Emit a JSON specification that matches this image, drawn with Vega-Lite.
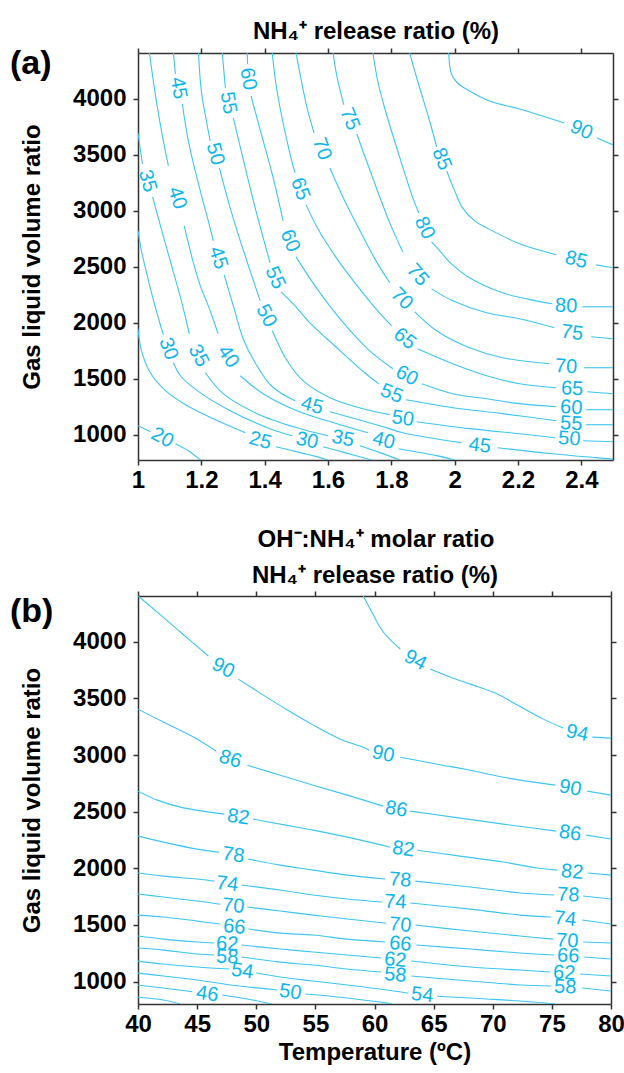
{
"$schema": "https://vega.github.io/schema/vega-lite/v6.json",
"background": "white",
"padding": {"left": 10, "top": 19, "right": 8, "bottom": 5},
"spacing": 12,
"config": {
 "font": "Liberation Sans",
 "view": {"stroke": null},
 "axis": {"grid": false, "labelFont": "Liberation Sans", "labelFontSize": 24, "labelFontWeight": "bold", "labelColor": "#000", "titleFont": "Liberation Sans", "titleFontSize": 24, "titleFontWeight": "bold", "titleColor": "#000", "domainColor": "#333", "domainWidth": 1.5, "tickColor": "#333", "tickWidth": 1.5, "tickSize": 5, "labelPadding": 3, "labelFlush": false, "labelOverlap": false},
 "title": {"font": "Liberation Sans", "fontSize": 34, "fontWeight": "bold", "color": "#000"}
},
"datasets": {
"la": [
{"lv":20,"s":1,"i":1,"x":1.000,"y":1080},{"lv":20,"s":1,"i":2,"x":1.039,"y":1027},{"lv":20,"s":2,"i":3,"x":1.118,"y":920},{"lv":20,"s":2,"i":4,"x":1.159,"y":857},{"lv":20,"s":2,"i":5,"x":1.197,"y":774},
{"lv":25,"s":1,"i":1,"x":1.000,"y":1946},{"lv":25,"s":1,"i":2,"x":1.011,"y":1749},{"lv":25,"s":1,"i":3,"x":1.039,"y":1553},{"lv":25,"s":1,"i":4,"x":1.087,"y":1393},{"lv":25,"s":1,"i":5,"x":1.150,"y":1268},{"lv":25,"s":1,"i":6,"x":1.238,"y":1143},{"lv":25,"s":1,"i":7,"x":1.339,"y":1018},{"lv":25,"s":2,"i":8,"x":1.436,"y":893},{"lv":25,"s":2,"i":9,"x":1.512,"y":840},{"lv":25,"s":2,"i":10,"x":1.565,"y":804},{"lv":25,"s":2,"i":11,"x":1.600,"y":774},
{"lv":30,"s":1,"i":1,"x":1.000,"y":2820},{"lv":30,"s":1,"i":2,"x":1.011,"y":2641},{"lv":30,"s":1,"i":3,"x":1.027,"y":2445},{"lv":30,"s":1,"i":4,"x":1.046,"y":2231},{"lv":30,"s":1,"i":5,"x":1.065,"y":2035},{"lv":30,"s":1,"i":6,"x":1.080,"y":1892},{"lv":30,"s":2,"i":7,"x":1.112,"y":1642},{"lv":30,"s":2,"i":8,"x":1.134,"y":1526},{"lv":30,"s":2,"i":9,"x":1.187,"y":1393},{"lv":30,"s":2,"i":10,"x":1.291,"y":1214},{"lv":30,"s":2,"i":11,"x":1.417,"y":1054},{"lv":30,"s":2,"i":12,"x":1.487,"y":991},{"lv":30,"s":3,"i":13,"x":1.584,"y":893},{"lv":30,"s":3,"i":14,"x":1.653,"y":840},{"lv":30,"s":3,"i":15,"x":1.738,"y":774},
{"lv":35,"s":1,"i":1,"x":1.000,"y":3694},{"lv":35,"s":1,"i":2,"x":1.008,"y":3533},{"lv":35,"s":1,"i":3,"x":1.014,"y":3418},{"lv":35,"s":2,"i":4,"x":1.046,"y":3123},{"lv":35,"s":2,"i":5,"x":1.077,"y":2802},{"lv":35,"s":2,"i":6,"x":1.109,"y":2481},{"lv":35,"s":2,"i":7,"x":1.137,"y":2195},{"lv":35,"s":2,"i":8,"x":1.162,"y":1901},{"lv":35,"s":3,"i":9,"x":1.213,"y":1553},{"lv":35,"s":3,"i":10,"x":1.269,"y":1366},{"lv":35,"s":3,"i":11,"x":1.376,"y":1188},{"lv":35,"s":3,"i":12,"x":1.502,"y":1062},{"lv":35,"s":3,"i":13,"x":1.600,"y":991},{"lv":35,"s":4,"i":14,"x":1.701,"y":902},{"lv":35,"s":4,"i":15,"x":1.764,"y":840},{"lv":35,"s":4,"i":16,"x":1.827,"y":774},
{"lv":40,"s":1,"i":1,"x":1.036,"y":4408},{"lv":40,"s":1,"i":2,"x":1.058,"y":3979},{"lv":40,"s":1,"i":3,"x":1.080,"y":3623},{"lv":40,"s":1,"i":4,"x":1.096,"y":3400},{"lv":40,"s":2,"i":5,"x":1.146,"y":2864},{"lv":40,"s":2,"i":6,"x":1.175,"y":2534},{"lv":40,"s":2,"i":7,"x":1.197,"y":2329},{"lv":40,"s":2,"i":8,"x":1.228,"y":2106},{"lv":40,"s":2,"i":9,"x":1.253,"y":1901},{"lv":40,"s":3,"i":10,"x":1.323,"y":1526},{"lv":40,"s":3,"i":11,"x":1.395,"y":1366},{"lv":40,"s":3,"i":12,"x":1.502,"y":1214},{"lv":40,"s":3,"i":13,"x":1.628,"y":1098},{"lv":40,"s":3,"i":14,"x":1.726,"y":1018},{"lv":40,"s":4,"i":15,"x":1.823,"y":875},{"lv":40,"s":4,"i":16,"x":1.943,"y":813},{"lv":40,"s":4,"i":17,"x":2.000,"y":774},
{"lv":45,"s":1,"i":1,"x":1.112,"y":4408},{"lv":45,"s":1,"i":2,"x":1.118,"y":4220},{"lv":45,"s":2,"i":3,"x":1.140,"y":3953},{"lv":45,"s":2,"i":4,"x":1.159,"y":3623},{"lv":45,"s":2,"i":5,"x":1.191,"y":3239},{"lv":45,"s":2,"i":6,"x":1.222,"y":2909},{"lv":45,"s":2,"i":7,"x":1.238,"y":2731},{"lv":45,"s":3,"i":8,"x":1.272,"y":2427},{"lv":45,"s":3,"i":9,"x":1.301,"y":2150},{"lv":45,"s":3,"i":10,"x":1.332,"y":1857},{"lv":45,"s":3,"i":11,"x":1.370,"y":1642},{"lv":45,"s":3,"i":12,"x":1.424,"y":1428},{"lv":45,"s":3,"i":13,"x":1.496,"y":1303},{"lv":45,"s":4,"i":14,"x":1.606,"y":1205},{"lv":45,"s":4,"i":15,"x":1.764,"y":1080},{"lv":45,"s":4,"i":16,"x":1.836,"y":1018},{"lv":45,"s":4,"i":17,"x":2.022,"y":929},{"lv":45,"s":5,"i":18,"x":2.135,"y":884},{"lv":45,"s":5,"i":19,"x":2.308,"y":830},{"lv":45,"s":5,"i":20,"x":2.447,"y":795},{"lv":45,"s":5,"i":21,"x":2.5,"y":782},
{"lv":50,"s":1,"i":1,"x":1.191,"y":4408},{"lv":50,"s":1,"i":2,"x":1.200,"y":4069},{"lv":50,"s":1,"i":3,"x":1.216,"y":3801},{"lv":50,"s":1,"i":4,"x":1.228,"y":3623},{"lv":50,"s":2,"i":5,"x":1.257,"y":3382},{"lv":50,"s":2,"i":6,"x":1.291,"y":3025},{"lv":50,"s":2,"i":7,"x":1.323,"y":2731},{"lv":50,"s":2,"i":8,"x":1.354,"y":2463},{"lv":50,"s":2,"i":9,"x":1.386,"y":2195},{"lv":50,"s":3,"i":10,"x":1.424,"y":1928},{"lv":50,"s":3,"i":11,"x":1.471,"y":1660},{"lv":50,"s":3,"i":12,"x":1.521,"y":1482},{"lv":50,"s":3,"i":13,"x":1.606,"y":1330},{"lv":50,"s":3,"i":14,"x":1.710,"y":1232},{"lv":50,"s":3,"i":15,"x":1.795,"y":1179},{"lv":50,"s":4,"i":16,"x":1.880,"y":1116},{"lv":50,"s":4,"i":17,"x":2.047,"y":1054},{"lv":50,"s":4,"i":18,"x":2.205,"y":1009},{"lv":50,"s":4,"i":19,"x":2.318,"y":973},{"lv":50,"s":5,"i":20,"x":2.406,"y":946},{"lv":50,"s":5,"i":21,"x":2.5,"y":937},
{"lv":55,"s":1,"i":1,"x":1.266,"y":4408},{"lv":55,"s":1,"i":2,"x":1.276,"y":4095},{"lv":55,"s":2,"i":3,"x":1.301,"y":3828},{"lv":55,"s":2,"i":4,"x":1.335,"y":3426},{"lv":55,"s":2,"i":5,"x":1.370,"y":3025},{"lv":55,"s":2,"i":6,"x":1.398,"y":2731},{"lv":55,"s":2,"i":7,"x":1.417,"y":2534},{"lv":55,"s":3,"i":8,"x":1.452,"y":2276},{"lv":55,"s":3,"i":9,"x":1.496,"y":2150},{"lv":55,"s":3,"i":10,"x":1.543,"y":1999},{"lv":55,"s":3,"i":11,"x":1.628,"y":1776},{"lv":55,"s":3,"i":12,"x":1.716,"y":1553},{"lv":55,"s":3,"i":13,"x":1.760,"y":1455},{"lv":55,"s":4,"i":14,"x":1.846,"y":1312},{"lv":55,"s":4,"i":15,"x":1.994,"y":1241},{"lv":55,"s":4,"i":16,"x":2.151,"y":1188},{"lv":55,"s":4,"i":17,"x":2.321,"y":1125},{"lv":55,"s":5,"i":18,"x":2.415,"y":1089},{"lv":55,"s":5,"i":19,"x":2.5,"y":1089},
{"lv":60,"s":1,"i":1,"x":1.345,"y":4408},{"lv":60,"s":1,"i":2,"x":1.346,"y":4310},{"lv":60,"s":2,"i":3,"x":1.357,"y":4024},{"lv":60,"s":2,"i":4,"x":1.392,"y":3658},{"lv":60,"s":2,"i":5,"x":1.427,"y":3293},{"lv":60,"s":2,"i":6,"x":1.458,"y":2909},{"lv":60,"s":3,"i":7,"x":1.499,"y":2588},{"lv":60,"s":3,"i":8,"x":1.559,"y":2329},{"lv":60,"s":3,"i":9,"x":1.638,"y":2035},{"lv":60,"s":3,"i":10,"x":1.732,"y":1749},{"lv":60,"s":3,"i":11,"x":1.805,"y":1589},{"lv":60,"s":4,"i":12,"x":1.896,"y":1455},{"lv":60,"s":4,"i":13,"x":1.994,"y":1366},{"lv":60,"s":4,"i":14,"x":2.101,"y":1321},{"lv":60,"s":4,"i":15,"x":2.205,"y":1277},{"lv":60,"s":4,"i":16,"x":2.321,"y":1250},{"lv":60,"s":5,"i":17,"x":2.415,"y":1223},{"lv":60,"s":5,"i":18,"x":2.5,"y":1223},
{"lv":65,"s":1,"i":1,"x":1.424,"y":4408},{"lv":65,"s":1,"i":2,"x":1.439,"y":4069},{"lv":65,"s":1,"i":3,"x":1.480,"y":3507},{"lv":65,"s":1,"i":4,"x":1.496,"y":3337},{"lv":65,"s":2,"i":5,"x":1.531,"y":3052},{"lv":65,"s":2,"i":6,"x":1.568,"y":2838},{"lv":65,"s":2,"i":7,"x":1.622,"y":2597},{"lv":65,"s":2,"i":8,"x":1.685,"y":2356},{"lv":65,"s":2,"i":9,"x":1.757,"y":2106},{"lv":65,"s":2,"i":10,"x":1.801,"y":1972},{"lv":65,"s":3,"i":11,"x":1.883,"y":1767},{"lv":65,"s":3,"i":12,"x":1.994,"y":1633},{"lv":65,"s":3,"i":13,"x":2.101,"y":1526},{"lv":65,"s":3,"i":14,"x":2.205,"y":1455},{"lv":65,"s":3,"i":15,"x":2.321,"y":1419},{"lv":65,"s":4,"i":16,"x":2.419,"y":1384},{"lv":65,"s":4,"i":17,"x":2.5,"y":1366},
{"lv":70,"s":1,"i":1,"x":1.499,"y":4408},{"lv":70,"s":1,"i":2,"x":1.534,"y":3917},{"lv":70,"s":1,"i":3,"x":1.556,"y":3694},{"lv":70,"s":2,"i":4,"x":1.606,"y":3382},{"lv":70,"s":2,"i":5,"x":1.653,"y":3087},{"lv":70,"s":2,"i":6,"x":1.701,"y":2820},{"lv":70,"s":2,"i":7,"x":1.748,"y":2570},{"lv":70,"s":2,"i":8,"x":1.795,"y":2356},{"lv":70,"s":3,"i":9,"x":1.874,"y":2097},{"lv":70,"s":3,"i":10,"x":1.943,"y":1928},{"lv":70,"s":3,"i":11,"x":2.047,"y":1776},{"lv":70,"s":3,"i":12,"x":2.151,"y":1687},{"lv":70,"s":3,"i":13,"x":2.299,"y":1633},{"lv":70,"s":4,"i":14,"x":2.409,"y":1598},{"lv":70,"s":4,"i":15,"x":2.5,"y":1598},
{"lv":75,"s":1,"i":1,"x":1.616,"y":4408},{"lv":75,"s":1,"i":2,"x":1.628,"y":4202},{"lv":75,"s":1,"i":3,"x":1.650,"y":3944},{"lv":75,"s":2,"i":4,"x":1.691,"y":3685},{"lv":75,"s":2,"i":5,"x":1.739,"y":3310},{"lv":75,"s":2,"i":6,"x":1.795,"y":2891},{"lv":75,"s":2,"i":7,"x":1.836,"y":2633},{"lv":75,"s":3,"i":8,"x":1.927,"y":2302},{"lv":75,"s":3,"i":9,"x":1.994,"y":2195},{"lv":75,"s":3,"i":10,"x":2.101,"y":2088},{"lv":75,"s":3,"i":11,"x":2.205,"y":2035},{"lv":75,"s":3,"i":12,"x":2.315,"y":1955},{"lv":75,"s":4,"i":13,"x":2.431,"y":1874},{"lv":75,"s":4,"i":14,"x":2.5,"y":1857},
{"lv":80,"s":1,"i":1,"x":1.742,"y":4408},{"lv":80,"s":1,"i":2,"x":1.757,"y":4158},{"lv":80,"s":1,"i":3,"x":1.779,"y":3917},{"lv":80,"s":1,"i":4,"x":1.827,"y":3471},{"lv":80,"s":1,"i":5,"x":1.868,"y":3114},{"lv":80,"s":1,"i":6,"x":1.887,"y":2980},{"lv":80,"s":2,"i":7,"x":1.927,"y":2722},{"lv":80,"s":2,"i":8,"x":1.953,"y":2641},{"lv":80,"s":2,"i":9,"x":1.990,"y":2525},{"lv":80,"s":2,"i":10,"x":2.047,"y":2401},{"lv":80,"s":2,"i":11,"x":2.151,"y":2267},{"lv":80,"s":2,"i":12,"x":2.258,"y":2195},{"lv":80,"s":2,"i":13,"x":2.308,"y":2169},{"lv":80,"s":3,"i":14,"x":2.403,"y":2142},{"lv":80,"s":3,"i":15,"x":2.5,"y":2142},
{"lv":85,"s":1,"i":1,"x":1.858,"y":4408},{"lv":85,"s":1,"i":2,"x":1.883,"y":4158},{"lv":85,"s":1,"i":3,"x":1.921,"y":3801},{"lv":85,"s":1,"i":4,"x":1.943,"y":3569},{"lv":85,"s":2,"i":5,"x":1.975,"y":3355},{"lv":85,"s":2,"i":6,"x":2.000,"y":3177},{"lv":85,"s":2,"i":7,"x":2.025,"y":3025},{"lv":85,"s":2,"i":8,"x":2.063,"y":2909},{"lv":85,"s":2,"i":9,"x":2.101,"y":2847},{"lv":85,"s":2,"i":10,"x":2.205,"y":2704},{"lv":85,"s":2,"i":11,"x":2.321,"y":2606},{"lv":85,"s":3,"i":12,"x":2.447,"y":2516},{"lv":85,"s":3,"i":13,"x":2.5,"y":2490},
{"lv":90,"s":1,"i":1,"x":1.981,"y":4408},{"lv":90,"s":1,"i":2,"x":1.990,"y":4220},{"lv":90,"s":1,"i":3,"x":2.009,"y":4140},{"lv":90,"s":1,"i":4,"x":2.047,"y":4069},{"lv":90,"s":1,"i":5,"x":2.110,"y":3979},{"lv":90,"s":1,"i":6,"x":2.205,"y":3908},{"lv":90,"s":1,"i":7,"x":2.346,"y":3783},{"lv":90,"s":2,"i":8,"x":2.450,"y":3649},{"lv":90,"s":2,"i":9,"x":2.5,"y":3587}
],
"ta": [
{"lv":20,"x":1.077,"y":973,"a":28},{"lv":25,"x":1.386,"y":947,"a":15},
{"lv":30,"x":1.096,"y":1767,"a":70},{"lv":30,"x":1.534,"y":946,"a":12},
{"lv":35,"x":1.030,"y":3266,"a":75},{"lv":35,"x":1.191,"y":1705,"a":62},{"lv":35,"x":1.647,"y":964,"a":12},
{"lv":40,"x":1.124,"y":3114,"a":72},{"lv":40,"x":1.285,"y":1696,"a":56},{"lv":40,"x":1.776,"y":947,"a":14},
{"lv":45,"x":1.128,"y":4095,"a":80},{"lv":45,"x":1.253,"y":2579,"a":72},{"lv":45,"x":1.550,"y":1259,"a":15},{"lv":45,"x":2.079,"y":902,"a":7},
{"lv":50,"x":1.244,"y":3507,"a":75},{"lv":50,"x":1.405,"y":2061,"a":62},{"lv":50,"x":1.836,"y":1143,"a":8},{"lv":50,"x":2.362,"y":964,"a":4},
{"lv":55,"x":1.285,"y":3962,"a":80},{"lv":55,"x":1.433,"y":2401,"a":66},{"lv":55,"x":1.801,"y":1366,"a":22},{"lv":55,"x":2.368,"y":1098,"a":3},
{"lv":60,"x":1.348,"y":4176,"a":80},{"lv":60,"x":1.480,"y":2731,"a":68},{"lv":60,"x":1.849,"y":1526,"a":28},{"lv":60,"x":2.368,"y":1241,"a":3},
{"lv":65,"x":1.512,"y":3195,"a":70},{"lv":65,"x":1.842,"y":1857,"a":38},{"lv":65,"x":2.371,"y":1410,"a":3},
{"lv":70,"x":1.581,"y":3551,"a":70},{"lv":70,"x":1.833,"y":2213,"a":45},{"lv":70,"x":2.352,"y":1607,"a":3},
{"lv":75,"x":1.669,"y":3819,"a":68},{"lv":75,"x":1.883,"y":2426,"a":50},{"lv":75,"x":2.371,"y":1910,"a":8},
{"lv":80,"x":1.905,"y":2847,"a":64},{"lv":80,"x":2.352,"y":2150,"a":2},
{"lv":85,"x":1.959,"y":3462,"a":68},{"lv":85,"x":2.384,"y":2561,"a":14},
{"lv":90,"x":2.400,"y":3721,"a":24}
],
"lb": [
{"lv":94,"s":1,"i":1,"x":59.05,"y":4404},{"lv":94,"s":1,"i":2,"x":59.64,"y":4289},{"lv":94,"s":1,"i":3,"x":60.74,"y":4086},{"lv":94,"s":1,"i":4,"x":62.18,"y":3936},{"lv":94,"s":2,"i":5,"x":64.72,"y":3759},{"lv":94,"s":2,"i":6,"x":66.16,"y":3697},{"lv":94,"s":2,"i":7,"x":68.10,"y":3626},{"lv":94,"s":2,"i":8,"x":70.39,"y":3538},{"lv":94,"s":2,"i":9,"x":72.08,"y":3441},{"lv":94,"s":2,"i":10,"x":74.28,"y":3317},{"lv":94,"s":2,"i":11,"x":75.96,"y":3238},{"lv":94,"s":3,"i":12,"x":78.42,"y":3158},{"lv":94,"s":3,"i":13,"x":80,"y":3149},
{"lv":90,"s":1,"i":1,"x":40,"y":4404},{"lv":90,"s":1,"i":2,"x":41.63,"y":4262},{"lv":90,"s":1,"i":3,"x":43.58,"y":4086},{"lv":90,"s":1,"i":4,"x":45.95,"y":3874},{"lv":90,"s":2,"i":5,"x":48.48,"y":3670},{"lv":90,"s":2,"i":6,"x":50.60,"y":3529},{"lv":90,"s":2,"i":7,"x":52.63,"y":3397},{"lv":90,"s":2,"i":8,"x":54.82,"y":3264},{"lv":90,"s":2,"i":9,"x":57.11,"y":3140},{"lv":90,"s":2,"i":10,"x":59.05,"y":3069},{"lv":90,"s":2,"i":11,"x":59.56,"y":3043},{"lv":90,"s":3,"i":12,"x":62.18,"y":2981},{"lv":90,"s":3,"i":13,"x":65.31,"y":2919},{"lv":90,"s":3,"i":14,"x":68.10,"y":2866},{"lv":90,"s":3,"i":15,"x":70.89,"y":2804},{"lv":90,"s":3,"i":16,"x":75.29,"y":2734},{"lv":90,"s":4,"i":17,"x":77.99,"y":2681},{"lv":90,"s":4,"i":18,"x":80,"y":2646},
{"lv":86,"s":1,"i":1,"x":40,"y":3405},{"lv":86,"s":1,"i":2,"x":42.14,"y":3291},{"lv":86,"s":1,"i":3,"x":45.01,"y":3140},{"lv":86,"s":1,"i":4,"x":46.62,"y":3034},{"lv":86,"s":2,"i":5,"x":49.24,"y":2910},{"lv":86,"s":2,"i":6,"x":52.03,"y":2822},{"lv":86,"s":2,"i":7,"x":54.82,"y":2734},{"lv":86,"s":2,"i":8,"x":57.70,"y":2646},{"lv":86,"s":2,"i":9,"x":60.74,"y":2549},{"lv":86,"s":3,"i":10,"x":63.03,"y":2505},{"lv":86,"s":3,"i":11,"x":66.66,"y":2452},{"lv":86,"s":3,"i":12,"x":70.89,"y":2390},{"lv":86,"s":3,"i":13,"x":75.37,"y":2328},{"lv":86,"s":4,"i":14,"x":77.91,"y":2293},{"lv":86,"s":4,"i":15,"x":80,"y":2258},
{"lv":82,"s":1,"i":1,"x":40,"y":2681},{"lv":82,"s":1,"i":2,"x":41.63,"y":2602},{"lv":82,"s":1,"i":3,"x":43.58,"y":2540},{"lv":82,"s":1,"i":4,"x":47.30,"y":2478},{"lv":82,"s":2,"i":5,"x":49.75,"y":2434},{"lv":82,"s":2,"i":6,"x":52.03,"y":2390},{"lv":82,"s":2,"i":7,"x":54.82,"y":2337},{"lv":82,"s":2,"i":8,"x":57.70,"y":2275},{"lv":82,"s":2,"i":9,"x":61.34,"y":2186},{"lv":82,"s":3,"i":10,"x":63.62,"y":2160},{"lv":82,"s":3,"i":11,"x":66.66,"y":2116},{"lv":82,"s":3,"i":12,"x":70.89,"y":2055},{"lv":82,"s":3,"i":13,"x":73.77,"y":2002},{"lv":82,"s":3,"i":14,"x":75.46,"y":1984},{"lv":82,"s":4,"i":15,"x":78.07,"y":1958},{"lv":82,"s":4,"i":16,"x":80,"y":1940},
{"lv":78,"s":1,"i":1,"x":40,"y":2284},{"lv":78,"s":1,"i":2,"x":42.14,"y":2231},{"lv":78,"s":1,"i":3,"x":45.01,"y":2169},{"lv":78,"s":1,"i":4,"x":46.88,"y":2142},{"lv":78,"s":2,"i":5,"x":49.33,"y":2081},{"lv":78,"s":2,"i":6,"x":52.03,"y":2028},{"lv":78,"s":2,"i":7,"x":54.82,"y":1984},{"lv":78,"s":2,"i":8,"x":57.70,"y":1940},{"lv":78,"s":2,"i":9,"x":60.91,"y":1905},{"lv":78,"s":3,"i":10,"x":63.45,"y":1887},{"lv":78,"s":3,"i":11,"x":68.10,"y":1835},{"lv":78,"s":3,"i":12,"x":72.33,"y":1782},{"lv":78,"s":3,"i":13,"x":75.20,"y":1764},{"lv":78,"s":4,"i":14,"x":77.65,"y":1755},{"lv":78,"s":4,"i":15,"x":80,"y":1729},
{"lv":74,"s":1,"i":1,"x":40,"y":1958},{"lv":74,"s":1,"i":2,"x":42.14,"y":1931},{"lv":74,"s":1,"i":3,"x":45.01,"y":1905},{"lv":74,"s":1,"i":4,"x":46.45,"y":1887},{"lv":74,"s":2,"i":5,"x":48.74,"y":1852},{"lv":74,"s":2,"i":6,"x":52.03,"y":1808},{"lv":74,"s":2,"i":7,"x":54.82,"y":1764},{"lv":74,"s":2,"i":8,"x":57.70,"y":1729},{"lv":74,"s":2,"i":9,"x":60.66,"y":1702},{"lv":74,"s":3,"i":10,"x":63.03,"y":1693},{"lv":74,"s":3,"i":11,"x":68.10,"y":1640},{"lv":74,"s":3,"i":12,"x":72.33,"y":1587},{"lv":74,"s":3,"i":13,"x":74.95,"y":1570},{"lv":74,"s":4,"i":14,"x":77.57,"y":1543},{"lv":74,"s":4,"i":15,"x":80,"y":1508},
{"lv":70,"s":1,"i":1,"x":40,"y":1773},{"lv":70,"s":1,"i":2,"x":42.14,"y":1746},{"lv":70,"s":1,"i":3,"x":45.01,"y":1711},{"lv":70,"s":1,"i":4,"x":46.96,"y":1683},{"lv":70,"s":2,"i":5,"x":49.24,"y":1658},{"lv":70,"s":2,"i":6,"x":52.03,"y":1623},{"lv":70,"s":2,"i":7,"x":54.82,"y":1587},{"lv":70,"s":2,"i":8,"x":57.70,"y":1552},{"lv":70,"s":2,"i":9,"x":61.00,"y":1515},{"lv":70,"s":3,"i":10,"x":63.45,"y":1499},{"lv":70,"s":3,"i":11,"x":68.10,"y":1446},{"lv":70,"s":3,"i":12,"x":72.33,"y":1402},{"lv":70,"s":3,"i":13,"x":75.12,"y":1375},{"lv":70,"s":4,"i":14,"x":77.65,"y":1349},{"lv":70,"s":4,"i":15,"x":80,"y":1340},
{"lv":66,"s":1,"i":1,"x":40,"y":1587},{"lv":66,"s":1,"i":2,"x":42.14,"y":1570},{"lv":66,"s":1,"i":3,"x":45.01,"y":1534},{"lv":66,"s":1,"i":4,"x":46.96,"y":1508},{"lv":66,"s":2,"i":5,"x":49.33,"y":1464},{"lv":66,"s":2,"i":6,"x":52.03,"y":1428},{"lv":66,"s":2,"i":7,"x":54.82,"y":1411},{"lv":66,"s":2,"i":8,"x":57.70,"y":1375},{"lv":66,"s":2,"i":9,"x":60.91,"y":1349},{"lv":66,"s":3,"i":10,"x":63.54,"y":1323},{"lv":66,"s":3,"i":11,"x":68.10,"y":1287},{"lv":66,"s":3,"i":12,"x":72.33,"y":1252},{"lv":66,"s":3,"i":13,"x":75.20,"y":1234},{"lv":66,"s":4,"i":14,"x":77.74,"y":1217},{"lv":66,"s":4,"i":15,"x":80,"y":1199},
{"lv":62,"s":1,"i":1,"x":40,"y":1402},{"lv":62,"s":1,"i":2,"x":42.14,"y":1375},{"lv":62,"s":1,"i":3,"x":45.01,"y":1349},{"lv":62,"s":1,"i":4,"x":46.45,"y":1340},{"lv":62,"s":2,"i":5,"x":48.74,"y":1323},{"lv":62,"s":2,"i":6,"x":52.03,"y":1287},{"lv":62,"s":2,"i":7,"x":54.82,"y":1261},{"lv":62,"s":2,"i":8,"x":57.70,"y":1234},{"lv":62,"s":2,"i":9,"x":60.58,"y":1208},{"lv":62,"s":3,"i":10,"x":63.11,"y":1181},{"lv":62,"s":3,"i":11,"x":68.10,"y":1128},{"lv":62,"s":3,"i":12,"x":72.33,"y":1102},{"lv":62,"s":3,"i":13,"x":74.87,"y":1084},{"lv":62,"s":4,"i":14,"x":77.40,"y":1067},{"lv":62,"s":4,"i":15,"x":80,"y":1049},
{"lv":58,"s":1,"i":1,"x":40,"y":1296},{"lv":58,"s":1,"i":2,"x":42.14,"y":1278},{"lv":58,"s":1,"i":3,"x":45.01,"y":1243},{"lv":58,"s":1,"i":4,"x":46.45,"y":1234},{"lv":58,"s":2,"i":5,"x":48.74,"y":1217},{"lv":58,"s":2,"i":6,"x":52.03,"y":1172},{"lv":58,"s":2,"i":7,"x":54.82,"y":1146},{"lv":58,"s":2,"i":8,"x":57.70,"y":1111},{"lv":58,"s":2,"i":9,"x":60.58,"y":1084},{"lv":58,"s":3,"i":10,"x":63.11,"y":1049},{"lv":58,"s":3,"i":11,"x":68.10,"y":1005},{"lv":58,"s":3,"i":12,"x":72.33,"y":970},{"lv":58,"s":3,"i":13,"x":74.95,"y":961},{"lv":58,"s":4,"i":14,"x":77.57,"y":943},{"lv":58,"s":4,"i":15,"x":80,"y":917},
{"lv":54,"s":1,"i":1,"x":40,"y":1181},{"lv":54,"s":1,"i":2,"x":42.14,"y":1155},{"lv":54,"s":1,"i":3,"x":45.01,"y":1128},{"lv":54,"s":1,"i":4,"x":47.72,"y":1111},{"lv":54,"s":2,"i":5,"x":50.00,"y":1075},{"lv":54,"s":2,"i":6,"x":52.03,"y":1040},{"lv":54,"s":2,"i":7,"x":54.82,"y":1005},{"lv":54,"s":2,"i":8,"x":57.70,"y":970},{"lv":54,"s":2,"i":9,"x":60.49,"y":934},{"lv":54,"s":2,"i":10,"x":62.86,"y":897},{"lv":54,"s":3,"i":11,"x":65.31,"y":870},{"lv":54,"s":3,"i":12,"x":69.54,"y":846},{"lv":54,"s":3,"i":13,"x":72.33,"y":828},{"lv":54,"s":3,"i":14,"x":75.29,"y":802},
{"lv":50,"s":1,"i":1,"x":40,"y":1075},{"lv":50,"s":1,"i":2,"x":42.14,"y":1049},{"lv":50,"s":1,"i":3,"x":45.01,"y":1014},{"lv":50,"s":1,"i":4,"x":47.80,"y":970},{"lv":50,"s":1,"i":5,"x":51.78,"y":926},{"lv":50,"s":2,"i":6,"x":54.15,"y":890},{"lv":50,"s":2,"i":7,"x":56.85,"y":864},{"lv":50,"s":2,"i":8,"x":60.49,"y":819},{"lv":50,"s":2,"i":9,"x":61.51,"y":802},
{"lv":46,"s":1,"i":1,"x":40,"y":967},{"lv":46,"s":1,"i":2,"x":42.14,"y":943},{"lv":46,"s":1,"i":3,"x":44.59,"y":910},{"lv":46,"s":2,"i":4,"x":47.13,"y":881},{"lv":46,"s":2,"i":5,"x":49.24,"y":846},{"lv":46,"s":2,"i":6,"x":51.36,"y":802},
{"lv":42,"s":1,"i":1,"x":40,"y":861},{"lv":42,"s":1,"i":2,"x":42.14,"y":837},{"lv":42,"s":1,"i":3,"x":43.58,"y":802}
],
"tb": [
{"lv":94,"x":63.45,"y":3838,"a":28},{"lv":94,"x":77.14,"y":3193,"a":12},
{"lv":90,"x":47.21,"y":3768,"a":27},{"lv":90,"x":60.74,"y":3008,"a":12},{"lv":90,"x":76.55,"y":2708,"a":10},
{"lv":86,"x":47.80,"y":2964,"a":18},{"lv":86,"x":61.84,"y":2522,"a":10},{"lv":86,"x":76.55,"y":2310,"a":8},
{"lv":82,"x":48.48,"y":2452,"a":8},{"lv":82,"x":62.44,"y":2169,"a":8},{"lv":82,"x":76.72,"y":1967,"a":5},
{"lv":78,"x":48.06,"y":2116,"a":8},{"lv":78,"x":62.18,"y":1896,"a":4},{"lv":78,"x":76.38,"y":1764,"a":3},
{"lv":74,"x":47.55,"y":1861,"a":7},{"lv":74,"x":61.76,"y":1702,"a":3},{"lv":74,"x":76.13,"y":1552,"a":6},
{"lv":70,"x":48.06,"y":1667,"a":5},{"lv":70,"x":62.18,"y":1499,"a":5},{"lv":70,"x":76.30,"y":1358,"a":3},
{"lv":66,"x":48.14,"y":1481,"a":5},{"lv":66,"x":62.18,"y":1331,"a":5},{"lv":66,"x":76.38,"y":1225,"a":3},
{"lv":62,"x":47.55,"y":1331,"a":3},{"lv":62,"x":61.76,"y":1190,"a":5},{"lv":62,"x":76.05,"y":1075,"a":3},
{"lv":58,"x":47.55,"y":1217,"a":3},{"lv":58,"x":61.76,"y":1058,"a":5},{"lv":58,"x":76.13,"y":952,"a":3},
{"lv":54,"x":48.82,"y":1093,"a":8},{"lv":54,"x":64.04,"y":881,"a":6},
{"lv":50,"x":52.88,"y":908,"a":8},
{"lv":46,"x":45.86,"y":890,"a":8}
]
},
"vconcat": [
{
 "title": {"text": "(a)", "anchor": "start", "frame": "group", "align": "left", "dx": -128, "dy": 66},
 "width": 475, "height": 407,
 "layer": [
  {"data": {"name": "la"},
   "mark": {"type": "line", "color": "#3cc6f2", "strokeWidth": 1.1, "interpolate": "catmull-rom", "clip": true},
   "encoding": {
    "x": {"field": "x", "type": "quantitative", "scale": {"domain": [1, 2.5], "nice": false, "zero": false},
          "axis": {"orient": "bottom", "values": [1, 1.2, 1.4, 1.6, 1.8, 2, 2.2, 2.4], "format": "~g", "title": "OH⁻:NH₄⁺ molar ratio", "titlePadding": 35}},
    "y": {"field": "y", "type": "quantitative", "scale": {"domain": [774, 4408], "nice": false, "zero": false},
          "axis": {"orient": "left", "values": [1000, 1500, 2000, 2500, 3000, 3500, 4000], "format": "d", "title": "Gas liquid volume ratio", "titlePadding": 28, "labelPadding": 7}},
    "detail": [{"field": "lv", "type": "nominal"}, {"field": "s", "type": "nominal"}],
    "order": {"field": "i", "type": "quantitative"}
   }},
  {"data": {"name": "ta"},
   "mark": {"type": "text", "color": "#0bb7ef", "fontSize": 20, "font": "Liberation Sans", "align": "center", "baseline": "middle"},
   "encoding": {
    "x": {"field": "x", "type": "quantitative", "scale": {"domain": [1, 2.5], "nice": false, "zero": false},
          "axis": {"orient": "top", "values": [1, 1.2, 1.4, 1.6, 1.8, 2, 2.2, 2.4], "labels": false, "title": "NH₄⁺ release ratio (%)", "titlePadding": 4}},
    "y": {"field": "y", "type": "quantitative", "scale": {"domain": [774, 4408], "nice": false, "zero": false},
          "axis": {"orient": "right", "values": [1000, 1500, 2000, 2500, 3000, 3500, 4000], "labels": false, "title": null}},
    "text": {"field": "lv", "type": "quantitative"},
    "angle": {"field": "a", "type": "quantitative", "scale": null}
   }}
 ],
 "resolve": {"axis": {"x": "independent", "y": "independent"}}
},
{
 "title": {"text": "(b)", "anchor": "start", "frame": "group", "align": "left", "dx": -128, "dy": 70},
 "width": 473, "height": 408,
 "layer": [
  {"data": {"name": "lb"},
   "mark": {"type": "line", "color": "#3cc6f2", "strokeWidth": 1.1, "interpolate": "catmull-rom", "clip": true},
   "encoding": {
    "x": {"field": "x", "type": "quantitative", "scale": {"domain": [40, 80], "nice": false, "zero": false},
          "axis": {"orient": "bottom", "values": [40, 45, 50, 55, 60, 65, 70, 75, 80], "format": "d", "title": "Temperature (ºC)", "titlePadding": 4}},
    "y": {"field": "y", "type": "quantitative", "scale": {"domain": [802, 4404], "nice": false, "zero": false},
          "axis": {"orient": "left", "values": [1000, 1500, 2000, 2500, 3000, 3500, 4000], "format": "d", "title": "Gas liquid volume ratio", "titlePadding": 28, "labelPadding": 7}},
    "detail": [{"field": "lv", "type": "nominal"}, {"field": "s", "type": "nominal"}],
    "order": {"field": "i", "type": "quantitative"}
   }},
  {"data": {"name": "tb"},
   "mark": {"type": "text", "color": "#0bb7ef", "fontSize": 20, "font": "Liberation Sans", "align": "center", "baseline": "middle"},
   "encoding": {
    "x": {"field": "x", "type": "quantitative", "scale": {"domain": [40, 80], "nice": false, "zero": false},
          "axis": {"orient": "top", "values": [40, 45, 50, 55, 60, 65, 70, 75, 80], "labels": false, "title": "NH₄⁺ release ratio (%)", "titlePadding": 3}},
    "y": {"field": "y", "type": "quantitative", "scale": {"domain": [802, 4404], "nice": false, "zero": false},
          "axis": {"orient": "right", "values": [1000, 1500, 2000, 2500, 3000, 3500, 4000], "labels": false, "title": null}},
    "text": {"field": "lv", "type": "quantitative"},
    "angle": {"field": "a", "type": "quantitative", "scale": null}
   }}
 ],
 "resolve": {"axis": {"x": "independent", "y": "independent"}}
}
]
}
